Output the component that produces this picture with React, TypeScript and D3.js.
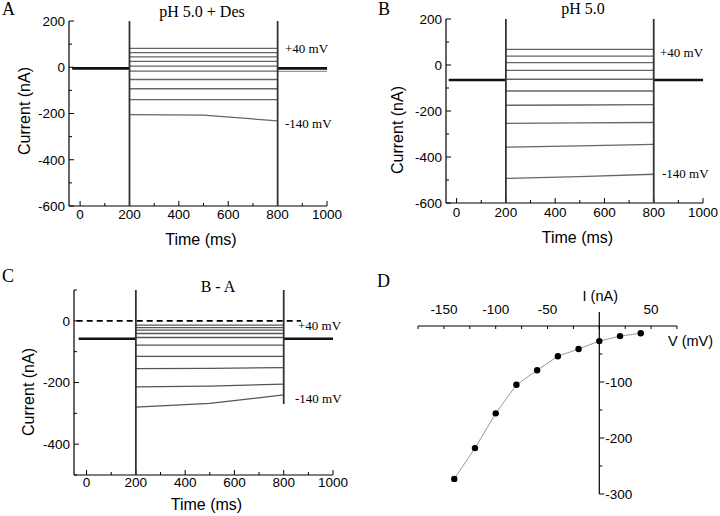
import React from "react";
import * as d3 from "d3";

// ---------- data ----------
const timeTicks = [0, 200, 400, 600, 800, 1000];
const timeMinorTicks = [100, 300, 500, 700, 900];
const currentTicksAB = [200, 0, -200, -400, -600];
const currentMinorAB = [100, -100, -300, -500];
const currentTicksC = [0, -200, -400];
const currentMinorC = [100, -100, -300, -500];

const voltages = [-140, -120, -100, -80, -60, -40, -20, 0, 20, 40];
const stepTimes = [200, 500, 800];
const holdTimes = [-32, 200];
const tailTimes = [800, 1000];
const spikeTimes = [200, 800];

// Panel A (pH 5.0 + Des)
const aStart = [-205, -140, -93, -53, -17, 5, 25, 45, 63, 82];
const aMid = [-207, -140, -93, -53, -17, 5, 25, 45, 63, 82];
const aEnd = [-232, -140, -93, -53, -17, 5, 25, 45, 63, 82];
const aHold = -5;
const aTail2 = -18;
const aSpikeTop = [200, 200];
const aSpikeBottom = [-600, -600];

// Panel B (pH 5.0)
const bStart = [-493, -357, -254, -175, -113, -62, -23, 10, 39, 68];
const bMid = [-485, -352, -252, -174, -113, -62, -23, 10, 39, 68];
const bEnd = [-475, -345, -250, -172, -113, -62, -23, 10, 39, 68];
const bHold = -65;
const bSpikeTop = [200, 200];
const bSpikeBottom = [-600, -600];

// Panel C (B - A)
const cStart = [-280, -214, -155, -115, -79, -54, -41, -30, -22, -14];
const cMid = [-268, -212, -154, -115, -79, -54, -41, -30, -22, -14];
const cEnd = [-240, -205, -152, -115, -79, -54, -41, -30, -22, -14];
const cHold = -58;
const cSpikeTop = [100, 100];
const cSpikeBottom = [-500, -270];
const zeroRefTimes = [-40, 870];

// Panel D (I-V)
const ivCurrent = [-273, -218, -156, -105, -79, -54, -41, -27, -18, -13];
const vTicks = [-150, -100, -50, 50];
const vMinorTicks = [-175, -150, -125, -100, -75, -50, -25, 0, 25, 50, 75];
const iTicks = [-100, -200, -300];
const iMinorTicks = [-50, -150, -250];

const SANS = "'Liberation Sans', Arial, sans-serif";
const SERIF = "'Liberation Serif', 'Times New Roman', serif";

type PanelProps = {
  x0: number; x1: number; yTop: number; yBot: number;
  tDomain: [number, number]; iDomain: [number, number];
  yTicks: number[]; yMinor: number[];
  start: number[]; mid: number[]; end: number[];
  hold: number; tail2?: number;
  spikeTop: number[]; spikeBottom: number[];
  title: string; titleX: number; titleY: number;
  letter: string; letterX: number; letterY: number;
  ylabX: number; ylabY: number;
  tickLabY: number; xlabY: number;
  hiLab: [number, number]; loLab: [number, number];
  zeroRef?: number[];
  traceColor: string;
};

function TracePanel(p: PanelProps) {
  const x = d3.scaleLinear().domain(p.tDomain).range([p.x0, p.x1]);
  const y = d3.scaleLinear().domain(p.iDomain).range([p.yBot, p.yTop]);
  const line = d3
    .line<[number, number]>()
    .x((d) => x(d[0]))
    .y((d) => y(d[1]));
  return (
    <g>
      {/* axes */}
      <line x1={p.x0} x2={p.x0} y1={p.yTop} y2={p.yBot} stroke="#000" strokeWidth={1.2} />
      <line x1={p.x0} x2={p.x1} y1={p.yBot} y2={p.yBot} stroke="#000" strokeWidth={1.2} />
      {timeTicks.map((t) => (
        <g key={"xt" + t}>
          <line x1={x(t)} x2={x(t)} y1={p.yBot} y2={p.yBot - 5} stroke="#000" />
          <text x={x(t)} y={p.tickLabY} textAnchor="middle" fontFamily={SANS} fontSize={13.5}>
            {t}
          </text>
        </g>
      ))}
      {timeMinorTicks.map((t) => (
        <line key={"xm" + t} x1={x(t)} x2={x(t)} y1={p.yBot} y2={p.yBot - 3} stroke="#000" />
      ))}
      {p.yTicks.map((v) => (
        <g key={"yt" + v}>
          <line x1={p.x0} x2={p.x0 + 5} y1={y(v)} y2={y(v)} stroke="#000" />
          <text x={p.x0 - 4} y={y(v)} dy="0.36em" textAnchor="end" fontFamily={SANS} fontSize={13.5}>
            {v}
          </text>
        </g>
      ))}
      {p.yMinor.map((v) => (
        <line key={"ym" + v} x1={p.x0} x2={p.x0 + 3} y1={y(v)} y2={y(v)} stroke="#000" />
      ))}
      <text x={(p.x0 + p.x1) / 2 + 3} y={p.xlabY} textAnchor="middle" fontFamily={SANS} fontSize={16}>
        Time (ms)
      </text>
      <text
        transform={`translate(${p.ylabX},${p.ylabY}) rotate(-90)`}
        textAnchor="middle"
        fontFamily={SANS}
        fontSize={16}
      >
        Current (nA)
      </text>

      {/* zero reference */}
      {p.zeroRef && (
        <path
          d={line([[p.zeroRef[0], 0], [p.zeroRef[1], 0]]) || ""}
          stroke="#000"
          strokeWidth={1.6}
          strokeDasharray="6,4"
          fill="none"
        />
      )}

      {/* step traces */}
      {voltages.map((v, i) => (
        <path
          key={"tr" + v}
          d={
            line([
              [stepTimes[0], p.start[i]],
              [stepTimes[1], p.mid[i]],
              [stepTimes[2], p.end[i]],
            ]) || ""
          }
          stroke={p.traceColor}
          strokeWidth={1.3}
          fill="none"
        />
      ))}

      {/* holding baseline */}
      <path d={line([[holdTimes[0], p.hold], [holdTimes[1], p.hold]]) || ""} stroke="#111" strokeWidth={2.6} fill="none" />
      {p.tail2 !== undefined && (
        <path d={line([[tailTimes[0], p.tail2], [tailTimes[1], p.tail2]]) || ""} stroke="#999" strokeWidth={1.4} fill="none" />
      )}
      <path d={line([[tailTimes[0], p.hold], [tailTimes[1], p.hold]]) || ""} stroke="#111" strokeWidth={2.6} fill="none" />

      {/* capacitive spikes */}
      {spikeTimes.map((t, i) => (
        <path
          key={"sp" + t}
          d={line([[t, p.spikeTop[i]], [t, p.spikeBottom[i]]]) || ""}
          stroke="#333"
          strokeWidth={1.8}
          fill="none"
        />
      ))}

      {/* labels */}
      <text x={p.titleX} y={p.titleY} textAnchor="middle" fontFamily={SERIF} fontSize={16}>
        {p.title}
      </text>
      <text x={p.letterX} y={p.letterY} fontFamily={SERIF} fontSize={18}>
        {p.letter}
      </text>
      <text x={p.hiLab[0]} y={p.hiLab[1]} fontFamily={SERIF} fontSize={13}>
        +40 mV
      </text>
      <text x={p.loLab[0]} y={p.loLab[1]} fontFamily={SERIF} fontSize={13}>
        -140 mV
      </text>
    </g>
  );
}

function IVPanel() {
  const x = d3.scaleLinear().domain([-175, 75]).range([418, 677]);
  const y = d3.scaleLinear().domain([-300, 0]).range([494, 326]);
  const yTopVal = 25;
  const pts: [number, number][] = voltages.map((v, i) => [v, ivCurrent[i]]);
  const line = d3
    .line<[number, number]>()
    .x((d) => x(d[0]))
    .y((d) => y(d[1]));
  const x0 = x(0);
  const y0 = y(0);
  return (
    <g>
      <line x1={x(-175)} x2={x(75)} y1={y0} y2={y0} stroke="#000" strokeWidth={1.2} />
      <line x1={x0} x2={x0} y1={y(yTopVal)} y2={y(-300)} stroke="#000" strokeWidth={1.2} />
      {vMinorTicks.map((v) => (
        <line key={"vm" + v} x1={x(v)} x2={x(v)} y1={y0} y2={y0 + 3} stroke="#000" />
      ))}
      {vTicks.map((v) => (
        <text key={"vt" + v} x={x(v)} y={314} textAnchor="middle" fontFamily={SANS} fontSize={13.5}>
          {v}
        </text>
      ))}
      {iTicks.map((v) => (
        <g key={"it" + v}>
          <line x1={x0} x2={x0 + 5} y1={y(v)} y2={y(v)} stroke="#000" />
          <text x={x0 + 6} y={y(v)} dy="0.36em" fontFamily={SANS} fontSize={13.5}>
            {v}
          </text>
        </g>
      ))}
      {iMinorTicks.map((v) => (
        <line key={"im" + v} x1={x0} x2={x0 + 3} y1={y(v)} y2={y(v)} stroke="#000" />
      ))}
      <path d={line(pts) || ""} stroke="#999" strokeWidth={1} fill="none" />
      {pts.map((d) => (
        <circle key={"pt" + d[0]} cx={x(d[0])} cy={y(d[1])} r={3.2} fill="#000" />
      ))}
      <text x={x0 + 1} y={301} textAnchor="middle" fontFamily={SANS} fontSize={14.5}>
        I (nA)
      </text>
      <text x={668} y={346} fontFamily={SANS} fontSize={14.5}>
        V (mV)
      </text>
      <text x={377} y={287} fontFamily={SERIF} fontSize={18}>
        D
      </text>
    </g>
  );
}

export default function App() {
  return (
    <svg
      width={720}
      height={516}
      viewBox="0 0 720 516"
      style={{ position: "absolute", left: 0, top: 0, background: "#fff" }}
    >
      <rect width={720} height={516} fill="#fff" />
      <TracePanel
        x0={69} x1={327} yTop={21} yBot={206}
        tDomain={[-45, 1000]} iDomain={[-600, 200]}
        yTicks={currentTicksAB} yMinor={currentMinorAB}
        start={aStart} mid={aMid} end={aEnd}
        hold={aHold} tail2={aTail2}
        spikeTop={aSpikeTop} spikeBottom={aSpikeBottom}
        title="pH 5.0 + Des" titleX={202} titleY={17}
        letter="A" letterX={2} letterY={15}
        ylabX={30} ylabY={111}
        tickLabY={219} xlabY={245}
        hiLab={[285, 53]} loLab={[285, 128]}
        traceColor="#666"
      />
      <TracePanel
        x0={446} x1={703} yTop={19} yBot={203}
        tDomain={[-43, 1000]} iDomain={[-600, 200]}
        yTicks={currentTicksAB} yMinor={currentMinorAB}
        start={bStart} mid={bMid} end={bEnd}
        hold={bHold}
        spikeTop={bSpikeTop} spikeBottom={bSpikeBottom}
        title="pH 5.0" titleX={583} titleY={14}
        letter="B" letterX={378} letterY={15}
        ylabX={403} ylabY={130}
        tickLabY={217} xlabY={243}
        hiLab={[660, 57]} loLab={[662, 178]}
        traceColor="#666"
      />
      <TracePanel
        x0={74} x1={333} yTop={290} yBot={475}
        tDomain={[-51, 1000]} iDomain={[-500, 100]}
        yTicks={currentTicksC} yMinor={currentMinorC}
        start={cStart} mid={cMid} end={cEnd}
        hold={cHold}
        spikeTop={cSpikeTop} spikeBottom={cSpikeBottom}
        title="B - A" titleX={218} titleY={292}
        letter="C" letterX={2} letterY={282}
        ylabX={34} ylabY={392}
        tickLabY={487} xlabY={510}
        hiLab={[298, 330]} loLab={[295, 403]}
        zeroRef={zeroRefTimes}
        traceColor="#555"
      />
      <IVPanel />
    </svg>
  );
}
